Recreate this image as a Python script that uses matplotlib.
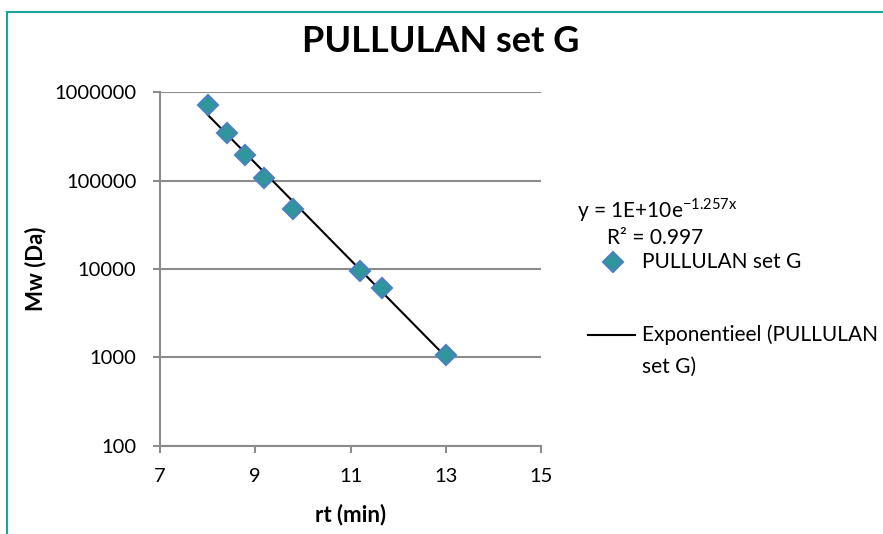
import matplotlib.pyplot as plt
import numpy as np
from matplotlib.lines import Line2D

# Pullulan calibration standards: retention time vs molecular weight
rt_min = [8.0, 8.41, 8.79, 9.18, 9.79, 11.2, 11.66, 13.0]
mw_da = [708000, 344000, 194000, 107000, 47100, 9600, 6100, 1080]

x_ticks = [7, 9, 11, 13, 15]
y_ticks = [100, 1000, 10000, 100000, 1000000]

plt.rcParams['font.family'] = ['Lato', 'DejaVu Sans']

fig = plt.figure(figsize=(8.83, 5.34), dpi=100)
ax = fig.add_axes([0.1812, 0.1648, 0.4315, 0.6629])

# Exponential trendline (fit of ln(Mw) against rt)
slope, intercept = np.polyfit(rt_min, np.log(mw_da), 1)
x_fit = np.linspace(min(rt_min), max(rt_min), 200)
y_fit = np.exp(intercept + slope * x_fit)
ax.plot(x_fit, y_fit, color='black', lw=1.5, zorder=2)

ax.plot(rt_min, mw_da, linestyle='none', marker='D', markersize=10,
        markerfacecolor='#2f969c', markeredgecolor='#4a7fc0',
        markeredgewidth=1.5, zorder=3)

ax.set_yscale('log')
ax.set_xlim(7, 15)
ax.set_ylim(100, 1000000)
ax.set_xticks(x_ticks)
ax.set_xticklabels([str(t) for t in x_ticks])
ax.set_yticks(y_ticks)
ax.set_yticklabels([str(t) for t in y_ticks])
ax.minorticks_off()

ax.yaxis.grid(True, color='#8c8c8c', lw=1.5)
ax.set_axisbelow(True)
for side in ['top', 'right']:
    ax.spines[side].set_visible(False)
for side in ['left', 'bottom']:
    ax.spines[side].set_color('#8c8c8c')
    ax.spines[side].set_linewidth(1.5)
ax.tick_params(axis='both', colors='#8c8c8c', width=1.5, length=5,
               labelsize=14.5, labelcolor='black')
ax.tick_params(axis='x', pad=11)
ax.tick_params(axis='y', pad=12)

ax.set_xlabel('rt (min)', fontsize=16, fontweight='bold', labelpad=13)
ax.set_ylabel('Mw (Da)', fontsize=16, fontweight='bold', labelpad=6)

fig.text(0.499, 0.922, 'PULLULAN set G', ha='center', va='center',
         fontsize=26, fontweight='bold')

# trendline equation and legend entries
fig.text(0.654, 0.607, r'y = 1E+10e$^{\mathregular{-1.257x}}$', fontsize=15,
         va='center')
fig.text(0.687, 0.554, 'R² = 0.997', fontsize=15, va='center')

fig.add_artist(Line2D([0.6942], [0.5094], linestyle='none', marker='D',
                      markersize=10, markerfacecolor='#2f969c',
                      markeredgecolor='#4a7fc0', markeredgewidth=1.5,
                      transform=fig.transFigure))
fig.text(0.727, 0.5094, 'PULLULAN set G', fontsize=15, va='center')

fig.add_artist(Line2D([0.6659, 0.7191], [0.3727, 0.3727], color='black',
                      lw=1.5, transform=fig.transFigure))
fig.text(0.727, 0.3727, 'Exponentieel (PULLULAN', fontsize=15, va='center')
fig.text(0.727, 0.3127, 'set G)', fontsize=15, va='center')

# chart area border
fig.add_artist(Line2D([0.008, 1.0], [0.977, 0.977], color='#1aa39a', lw=1.5,
                      transform=fig.transFigure))
fig.add_artist(Line2D([0.008, 0.008], [0.0, 0.977], color='#1aa39a', lw=1.5,
                      transform=fig.transFigure))

fig.savefig('out.png', dpi=100)
